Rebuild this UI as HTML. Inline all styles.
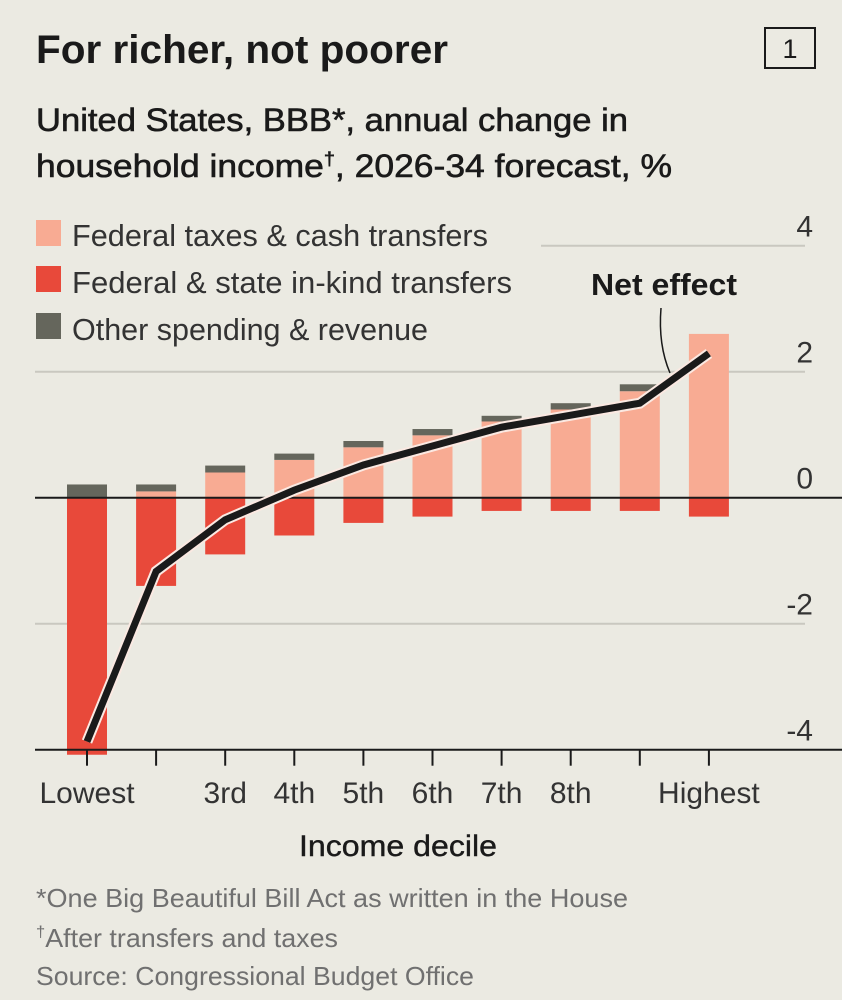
<!DOCTYPE html>
<html><head><meta charset="utf-8"><style>
html,body{margin:0;padding:0;background:#ebeae2;}
svg{display:block;font-family:"Liberation Sans",sans-serif;}
</style></head><body>
<svg id="chart" width="842" height="1000" viewBox="0 0 842 1000">
<rect width="842" height="1000" fill="#ebeae2"/>
<text x="36" y="63" font-size="40" font-weight="bold" fill="#1a1a1a" textLength="412" lengthAdjust="spacingAndGlyphs">For richer, not poorer</text>
<rect x="765" y="28" width="50" height="40" fill="none" stroke="#1a1a1a" stroke-width="2"/>
<text x="790" y="58" font-size="27" text-anchor="middle" fill="#1a1a1a">1</text>
<text x="36" y="131" font-size="32" fill="#1a1a1a" stroke="#1a1a1a" stroke-width="0.6" textLength="592" lengthAdjust="spacingAndGlyphs">United States, BBB*, annual change in</text>
<text x="36" y="177" font-size="32" fill="#1a1a1a" stroke="#1a1a1a" stroke-width="0.6" textLength="636" lengthAdjust="spacingAndGlyphs">household income<tspan font-size="18" dy="-12">†</tspan><tspan dy="12">, 2026-34 forecast, %</tspan></text>

<rect x="36" y="220" width="25" height="26" fill="#f8ab93"/>
<text x="72" y="246" font-size="31" fill="#333" textLength="416" lengthAdjust="spacingAndGlyphs">Federal taxes &amp; cash transfers</text>
<rect x="36" y="266" width="25" height="26" fill="#e8493a"/>
<text x="72" y="293" font-size="31" fill="#333" textLength="440" lengthAdjust="spacingAndGlyphs">Federal &amp; state in-kind transfers</text>
<rect x="36" y="313" width="25" height="26" fill="#65665c"/>
<text x="72" y="340" font-size="31" fill="#333" textLength="356" lengthAdjust="spacingAndGlyphs">Other spending &amp; revenue</text>

<g id="grid"></g><g id="bars"></g><g id="line"></g><g id="xaxis"></g>

<text x="591" y="295" font-size="31" font-weight="bold" fill="#1a1a1a" textLength="146" lengthAdjust="spacingAndGlyphs">Net effect</text>
<path d="M661,308 Q658,345 670,373" fill="none" stroke="#1a1a1a" stroke-width="1.5"/>

<text x="398" y="856" font-size="30" text-anchor="middle" fill="#1a1a1a" stroke="#1a1a1a" stroke-width="0.4" textLength="198" lengthAdjust="spacingAndGlyphs">Income decile</text>
<text x="36" y="907" font-size="26" fill="#707070" textLength="592" lengthAdjust="spacingAndGlyphs">*One Big Beautiful Bill Act as written in the House</text>
<text x="36" y="947" font-size="26" fill="#707070" textLength="302" lengthAdjust="spacingAndGlyphs"><tspan font-size="16" dy="-10">†</tspan><tspan dy="10">After transfers and taxes</tspan></text>
<text x="36" y="985" font-size="26" fill="#707070" textLength="438" lengthAdjust="spacingAndGlyphs">Source: Congressional Budget Office</text>
</svg>
<script>
const categories = ["Lowest","2nd","3rd","4th","5th","6th","7th","8th","9th","Highest"];
const xLabels = ["Lowest","","3rd","4th","5th","6th","7th","8th","","Highest"];
const taxesCash = [0, 0.10, 0.40, 0.60, 0.80, 0.99, 1.21, 1.40, 1.69, 2.60];
const inKind = [-4.08, -1.40, -0.90, -0.60, -0.40, -0.30, -0.21, -0.21, -0.21, -0.30];
const other = [0.21, 0.11, 0.11, 0.10, 0.10, 0.10, 0.09, 0.10, 0.11, 0];
const netEffect = [-3.87, -1.17, -0.35, 0.12, 0.52, 0.82, 1.12, 1.31, 1.50, 2.29];
const yTicks = [4, 2, 0, -2, -4];

const NS = "http://www.w3.org/2000/svg";
const x = i => 87 + i * 69.1;
const y = v => 497.7 - v * 63;
function mk(tag, attrs, parent){const e=document.createElementNS(NS,tag);for(const k in attrs)e.setAttribute(k,attrs[k]);parent.appendChild(e);return e;}
const grid=document.getElementById('grid'), bars=document.getElementById('bars'), line=document.getElementById('line'), xaxis=document.getElementById('xaxis');

yTicks.forEach(t=>{
  if(t!==0 && t!==-4){
    const g=mk('line',{x1:t===4?541:35,x2:805,y1:y(t),y2:y(t),stroke:'#c9c8c0','stroke-width':2},grid);
    
    
  }
  const lb=mk('text',{x:813,y:y(t)-9,'font-size':30,'text-anchor':'end',fill:'#333'},grid);
  lb.textContent=String(t);
  
  
});

const bw=40;
categories.forEach((c,i)=>{
  if(taxesCash[i]>0){
    const r=mk('rect',{x:x(i)-bw/2,y:y(taxesCash[i]),width:bw,height:y(0)-y(taxesCash[i]),fill:'#f8ab93'},bars);
    
    
  }
  const r2=mk('rect',{x:x(i)-bw/2,y:y(0),width:bw,height:y(inKind[i])-y(0),fill:'#e8493a'},bars);
  
  
  if(other[i]>0){
    const top=Math.max(taxesCash[i],0);
    const r3=mk('rect',{x:x(i)-bw/2,y:y(top+other[i]),width:bw,height:y(top)-y(top+other[i]),fill:'#65665c'},bars);
    
    
  }
});

const zl=mk('line',{x1:35,x2:842,y1:y(0),y2:y(0),stroke:'#1a1a1a','stroke-width':2},bars);



const pts=netEffect.map((v,i)=>x(i)+','+y(v)).join(' ');
const halo=mk('polyline',{points:pts,fill:'none',stroke:'#fbe9e2','stroke-width':11,'stroke-linejoin':'miter'},line);


const nl=mk('polyline',{points:pts,fill:'none',stroke:'#1a1a1a','stroke-width':7,'stroke-linejoin':'miter'},line);



const ax=mk('line',{x1:35,x2:842,y1:y(-4),y2:y(-4),stroke:'#1a1a1a','stroke-width':2},xaxis);


categories.forEach((c,i)=>{
  const t=mk('line',{x1:x(i),x2:x(i),y1:y(-4),y2:y(-4)+16,stroke:'#1a1a1a','stroke-width':2},xaxis);
  
  
  if(xLabels[i]){
    const lb=mk('text',{x:x(i),y:803,'font-size':30,'text-anchor':'middle',fill:'#333'},xaxis);
    lb.textContent=xLabels[i];
    
    
  }
});
</script>
</body></html>
